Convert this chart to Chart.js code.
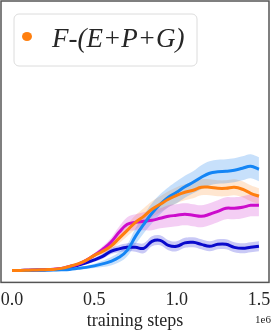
<!DOCTYPE html>
<html>
<head>
<meta charset="utf-8">
<script src="https://cdn.jsdelivr.net/npm/chart.js@4"></script>
<style>
  html, body { margin: 0; padding: 0; background: #fff; }
  #wrap { width: 272px; height: 335px; position: relative; }
</style>
</head>
<body>
<div id="wrap"><canvas id="c" width="272" height="335"></canvas></div>
<script>
// training steps (in units of 1e6)
const steps = [0, 0.05, 0.1, 0.15, 0.2, 0.25, 0.3, 0.35, 0.4, 0.45, 0.5, 0.55, 0.6, 0.65, 0.7, 0.75,
  0.8, 0.85, 0.9, 0.95, 1.0, 1.05, 1.1, 1.15, 1.2, 1.25, 1.3, 1.35, 1.4, 1.45, 1.5];
const xTicks = [0, 0.5, 1.0, 1.5];
const legendLabel = "F-(E+P+G)";

// mean returns (normalised)
const lightBlue = [0, 0, 0, 0.001, 0.002, 0.004, 0.006, 0.01, 0.02, 0.03, 0.045, 0.065, 0.09, 0.13, 0.2, 0.34,
  0.46, 0.57, 0.66, 0.73, 0.78, 0.835, 0.88, 0.93, 0.97, 0.985, 0.99, 1.0, 1.02, 1.04, 1.01];
const orange = [0, 0, 0.002, 0.004, 0.007, 0.01, 0.02, 0.04, 0.065, 0.1, 0.15, 0.19, 0.24, 0.32, 0.4, 0.48,
  0.54, 0.61, 0.66, 0.71, 0.75, 0.78, 0.8, 0.83, 0.83, 0.82, 0.82, 0.83, 0.81, 0.77, 0.74];
const magenta = [0, 0, 0.002, 0.005, 0.008, 0.012, 0.02, 0.04, 0.06, 0.1, 0.15, 0.21, 0.28, 0.38, 0.46, 0.48,
  0.49, 0.5, 0.52, 0.54, 0.55, 0.56, 0.55, 0.54, 0.56, 0.59, 0.62, 0.62, 0.63, 0.65, 0.65];
const darkBlue = [0, 0, 0.001, 0.003, 0.005, 0.008, 0.013, 0.03, 0.05, 0.075, 0.105, 0.14, 0.19, 0.215, 0.23, 0.23,
  0.22, 0.29, 0.3, 0.25, 0.24, 0.275, 0.28, 0.26, 0.24, 0.26, 0.26, 0.23, 0.22, 0.23, 0.24];

// half-width of the shaded band
const lightBlueSpread = [0, 0, 0, 0, 0.002, 0.004, 0.006, 0.008, 0.01, 0.015, 0.02, 0.03, 0.04, 0.05, 0.06, 0.08,
  0.09, 0.1, 0.1, 0.1, 0.11, 0.11, 0.11, 0.12, 0.12, 0.12, 0.12, 0.12, 0.12, 0.12, 0.12];
const orangeSpread = [0, 0, 0, 0, 0.002, 0.004, 0.006, 0.008, 0.01, 0.015, 0.02, 0.03, 0.04, 0.05, 0.06, 0.07,
  0.08, 0.08, 0.08, 0.08, 0.08, 0.08, 0.08, 0.08, 0.08, 0.08, 0.08, 0.08, 0.08, 0.08, 0.08];
const magentaSpread = [0, 0, 0, 0, 0.002, 0.004, 0.006, 0.008, 0.01, 0.015, 0.02, 0.03, 0.04, 0.055, 0.07, 0.08,
  0.09, 0.1, 0.1, 0.11, 0.11, 0.11, 0.11, 0.11, 0.11, 0.11, 0.11, 0.11, 0.11, 0.11, 0.11];
const darkBlueSpread = [0, 0, 0, 0, 0.002, 0.004, 0.006, 0.008, 0.01, 0.015, 0.02, 0.025, 0.03, 0.035, 0.04, 0.045,
  0.05, 0.05, 0.05, 0.05, 0.05, 0.05, 0.05, 0.05, 0.05, 0.05, 0.05, 0.05, 0.05, 0.05, 0.05];

const series = [
  { name: "darkBlue", mean: darkBlue, spread: darkBlueSpread, color: "#0a0acc", band: "rgba(40,40,220,0.25)" },
  { name: "magenta", mean: magenta, spread: magentaSpread, color: "#cc0ccc", band: "rgba(210,60,210,0.25)" },
  { name: "lightBlue", mean: lightBlue, spread: lightBlueSpread, color: "#1485f5", band: "rgba(30,130,240,0.25)" },
  { name: legendLabel, mean: orange, spread: orangeSpread, color: "#ff7f0e", band: "rgba(255,140,40,0.22)" }
];

const pts = (arr) => steps.map((s, i) => ({ x: s, y: arr[i] }));
const datasets = [];
series.forEach((s) => {
  datasets.push({
    label: s.name + " upper",
    data: pts(s.mean.map((m, i) => m + s.spread[i])),
    borderWidth: 0, pointRadius: 0, backgroundColor: s.band, fill: "+1", tension: 0.4, order: 10
  });
  datasets.push({
    label: s.name + " lower",
    data: pts(s.mean.map((m, i) => m - s.spread[i])),
    borderWidth: 0, pointRadius: 0, backgroundColor: s.band, fill: false, tension: 0.4, order: 10
  });
});
series.forEach((s, k) => {
  datasets.push({
    label: s.name,
    data: pts(s.mean),
    borderColor: s.color, borderWidth: 3, pointRadius: 0, fill: false, tension: 0.4, order: 4 - k
  });
});

const framePlugin = {
  id: "frame",
  afterDraw(chart) {
    const { ctx, chartArea: a } = chart;
    ctx.save();
    ctx.strokeStyle = "#555";
    ctx.lineWidth = 1.5;
    ctx.strokeRect(a.left, a.top, a.right - a.left, a.bottom - a.top);
    // legend box
    const bx = 14, by = 14, bw = 183, bh = 52, r = 5;
    ctx.beginPath();
    ctx.moveTo(bx + r, by);
    ctx.arcTo(bx + bw, by, bx + bw, by + bh, r);
    ctx.arcTo(bx + bw, by + bh, bx, by + bh, r);
    ctx.arcTo(bx, by + bh, bx, by, r);
    ctx.arcTo(bx, by, bx + bw, by, r);
    ctx.closePath();
    ctx.fillStyle = "rgba(255,255,255,0.85)";
    ctx.fill();
    ctx.strokeStyle = "#dcdcdc";
    ctx.lineWidth = 1;
    ctx.stroke();
    ctx.beginPath();
    ctx.ellipse(27, 36.5, 5, 4.5, 0, 0, Math.PI * 2);
    ctx.fillStyle = "#ff7f0e";
    ctx.fill();
    ctx.fillStyle = "#262626";
    ctx.font = "italic 27px 'Liberation Serif', serif";
    ctx.textBaseline = "alphabetic";
    ctx.textAlign = "left";
    ctx.fillText(legendLabel, 52, 46.5);
    // offset text
    ctx.font = "11px 'Liberation Serif', serif";
    ctx.textAlign = "right";
    ctx.fillText("1e6", 271, 323);
    ctx.restore();
  }
};

new Chart(document.getElementById("c"), {
  type: "line",
  data: { datasets },
  options: {
    responsive: false,
    animation: false,
    devicePixelRatio: 1,
    layout: { padding: { left: 1, right: 3, top: 1, bottom: 3 } },
    plugins: { legend: { display: false }, tooltip: { enabled: false } },
    scales: {
      x: {
        type: "linear",
        min: -0.067, max: 1.561,
        grid: { display: false, drawTicks: false },
        border: { display: false },
        afterBuildTicks(scale) { scale.ticks = xTicks.map(v => ({ value: v })); },
        ticks: {
          padding: 0,
          color: "#262626",
          font: { family: "'Liberation Serif', serif", size: 18, lineHeight: 2.0 },
          maxRotation: 0,
          autoSkip: false,
          callback: (v) => Number(v).toFixed(1)
        },
        title: {
          display: true, text: "training steps", color: "#262626",
          font: { family: "'Liberation Serif', serif", size: 18 },
          padding: { top: -8, bottom: 0 }
        }
      },
      y: { display: false, min: -0.12, max: 2.69 }
    }
  },
  plugins: [framePlugin]
});
</script>
</body>
</html>
